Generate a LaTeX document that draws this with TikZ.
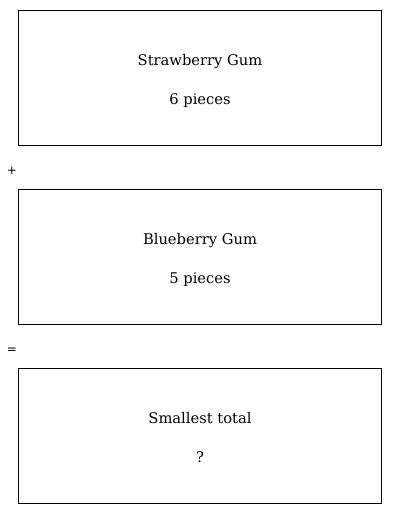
\documentclass[tikz,border=0pt]{standalone}
\usepackage{fontspec}
\setmainfont{DejaVu Serif}
\setsansfont{DejaVu Sans}
\begin{document}
\begin{tikzpicture}[x=1pt,y=-1pt,
  gumbox/.style={draw,line width=0.9pt},
  lbl/.style={font=\fontsize{14.7}{17}\selectfont,inner sep=0pt,anchor=base},
  op/.style={font=\sffamily\fontsize{12}{14}\selectfont,inner sep=0pt,anchor=base}]
\useasboundingbox (0,0) rectangle (400,514);
\draw[gumbox] (18,10) rectangle (381,145);
\node[lbl] (s1) at (200,65) {Strawberry Gum};
\node[lbl] (s2) at (200,104) {6 pieces};
\node[op] (plus) at (12,174) {+};
\draw[gumbox] (18,189) rectangle (381,324);
\node[lbl] (b1) at (200,244) {Blueberry Gum};
\node[lbl] (b2) at (200,283) {5 pieces};
\node[op] (eq) at (12,353) {=};
\draw[gumbox] (18,368) rectangle (381,503);
\node[lbl] (t1) at (200,423) {Smallest total};
\node[lbl] (t2) at (200,462) {?};
\end{tikzpicture}
\end{document}
